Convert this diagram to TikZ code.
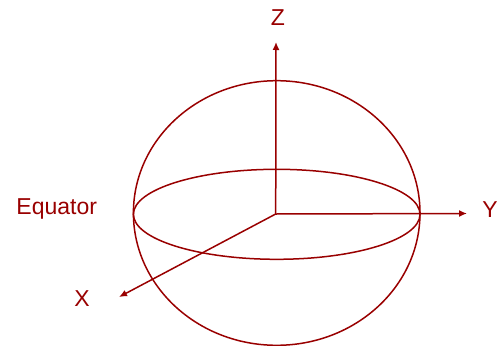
\documentclass[tikz,border=0pt]{standalone}
\usepackage{fontspec}
\setmainfont{Liberation Sans}
\usetikzlibrary{arrows.meta}
\definecolor{dred}{RGB}{153,0,0}
\begin{document}
\begin{tikzpicture}[x=1pt,y=-1pt,
  line/.style={draw=dred,line width=1.5pt},
  axis/.style={line,-{Latex[length=8pt,width=7pt]}},
  lbl/.style={text=dred,font=\fontsize{23}{26}\selectfont,inner sep=0pt}]
\useasboundingbox (0,0) rectangle (497,345);
\coordinate (O) at (275.7,214);
\draw[line] (276.7,213) ellipse[x radius=143.3,y radius=132.3];
\draw[line] (276.7,214.3) ellipse[x radius=143.3,y radius=45];
\coordinate (zt) at (276,42);
\coordinate (yt) at (467,213.5);
\coordinate (xt) at (119,297);
\draw[axis] (O) -- (zt);
\draw[axis] (O) -- (yt);
\draw[axis] (O) -- (xt);
\node[lbl] (Z) at (278,18) {Z};
\node[lbl] (Y) at (490,210) {Y};
\node[lbl] (X) at (82,299) {X};
\node[lbl] (E) at (56.7,208.5) {Equator};
\end{tikzpicture}
\end{document}
